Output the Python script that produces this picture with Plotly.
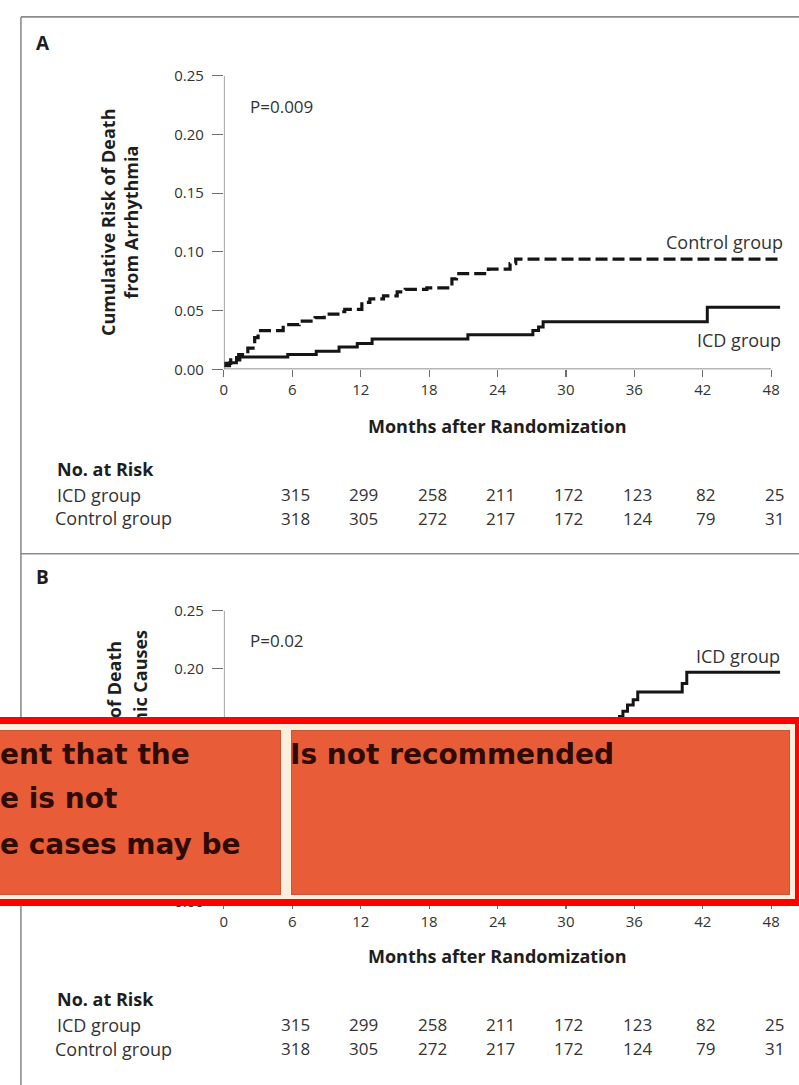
import plotly.graph_objects as go

W, H = 799, 1085

# ---- data ---------------------------------------------------------------
months = [0, 6, 12, 18, 24, 30, 36, 42, 48]
y_ticks = [0.00, 0.05, 0.10, 0.15, 0.20, 0.25]
a_ytick_text = ["0.00", "0.05", "0.10", "0.15", "0.20", "0.25"]
# panel B: the middle labels sit behind the banner
b_ytick_text = ["0.00", "", "", "", "0.20", "0.25"]

# Panel A: death from arrhythmia (Kaplan-Meier steps)
a_icd_t = [0, 0.5, 1.1, 1.4, 5.6, 8.1, 10.1, 11.7, 13.0, 21.4, 27.1, 27.6, 28.0, 42.4, 48.8]
a_icd_r = [0.003, 0.0055, 0.008, 0.0105, 0.0125, 0.0153, 0.0189, 0.022, 0.0258, 0.0295, 0.033, 0.036, 0.0405, 0.0528, 0.0528]

a_ctl_t = [0, 0.6, 1.3, 2.1, 2.7, 3.0, 5.2, 6.6, 8.0, 8.8, 10.0, 10.6, 12.1, 12.8, 14.0,
           15.2, 15.9, 17.8, 20.0, 20.4, 23.2, 25.1, 25.6, 48.8]
a_ctl_r = [0.005, 0.010, 0.0125, 0.018, 0.027, 0.033, 0.038, 0.041, 0.044, 0.047, 0.049, 0.051, 0.057, 0.060, 0.0625,
           0.066, 0.068, 0.0694, 0.077, 0.0814, 0.0853, 0.090, 0.0939, 0.0939]

# Panel B: death from nonarrhythmic causes
b_icd_t = [0, 1.0, 3.0, 6.0, 9.0, 12.0, 15.0, 18.0, 21.0, 24.0, 27.0, 30.0, 32.0, 33.5,
           34.7, 35.0, 35.4, 35.9, 36.3, 40.2, 40.6, 48.8]
b_icd_r = [0.004, 0.012, 0.025, 0.040, 0.055, 0.070, 0.085, 0.095, 0.110, 0.120, 0.130, 0.140, 0.148, 0.154,
           0.159, 0.1636, 0.169, 0.1734, 0.180, 0.1875, 0.197, 0.197]

b_ctl_t = [0, 1.5, 4.0, 8.0, 12.0, 16.0, 20.0, 25.0, 30.0, 36.0, 42.0, 48.8]
b_ctl_r = [0.003, 0.010, 0.020, 0.030, 0.040, 0.050, 0.058, 0.066, 0.074, 0.082, 0.090, 0.090]

risk_icd = [315, 299, 258, 211, 172, 123, 82, 25]
risk_ctl = [318, 305, 272, 217, 172, 124, 79, 31]

# ---- styling ------------------------------------------------------------
FONT = "Open Sans, Lato, sans-serif"
TXT = "#333333"
DARK = "#1e1e1e"
AX = "#6e6e6e"
CURVE = "#151515"

X0 = 221.0            # pixel of month 0
PPM = 550.0 / 48.0    # pixels per month
XMAX = 48.8


def px(x):
    return x / W


def py(y):
    return 1 - y / H


fig = go.Figure()

panels = [
    dict(xa="x", ya="y", top=66, bottom=365, dy=0,
         icd=(a_icd_t, a_icd_r), ctl=(a_ctl_t, a_ctl_r)),
    dict(xa="x2", ya="y2", top=611, bottom=907, dy=540,
         icd=(b_icd_t, b_icd_r), ctl=(b_ctl_t, b_ctl_r)),
]

for p in panels:
    fig.add_trace(go.Scatter(x=p["ctl"][0], y=p["ctl"][1], mode="lines",
                             line=dict(color=CURVE, width=3.2, shape="hv", dash="12px,5px"),
                             xaxis=p["xa"], yaxis=p["ya"], showlegend=False, hoverinfo="skip"))
    fig.add_trace(go.Scatter(x=p["icd"][0], y=p["icd"][1], mode="lines",
                             line=dict(color=CURVE, width=3.0, shape="hv"),
                             xaxis=p["xa"], yaxis=p["ya"], showlegend=False, hoverinfo="skip"))


def xaxis_cfg(anchor):
    return dict(domain=[px(X0), px(X0 + XMAX * PPM)], range=[0, XMAX], tickvals=months,
                ticks="outside", ticklen=7, tickwidth=1.2, tickcolor=AX,
                showgrid=False, zeroline=False, showline=False, anchor=anchor,
                tickfont=dict(family=FONT, size=15, color=TXT), fixedrange=True)


def yaxis_cfg(anchor, top, bottom, labels):
    return dict(domain=[py(bottom), py(top)], range=[0, 0.25], tickvals=y_ticks, ticktext=labels,
                ticks="outside", ticklen=11, tickwidth=1.2, tickcolor=AX, ticklabelstandoff=5,
                showgrid=False, zeroline=False, showline=False, anchor=anchor,
                tickfont=dict(family=FONT, size=15, color=TXT), fixedrange=True)


shapes = []
for p in panels:
    shapes.append(dict(type="line", xref=p["xa"], yref=p["ya"], x0=0, x1=48, y0=0, y1=0,
                       line=dict(color=AX, width=1.3)))
    shapes.append(dict(type="line", xref=p["xa"], yref=p["ya"], x0=0, x1=0, y0=0, y1=0.25,
                       line=dict(color=AX, width=1.3)))

# panel frame
FRAME = "#8c8c8c"
shapes += [
    dict(type="line", xref="paper", yref="paper", x0=px(17), x1=px(17), y0=py(6), y1=py(1100),
         line=dict(color=FRAME, width=1.6)),
    dict(type="line", xref="paper", yref="paper", x0=px(17), x1=px(810), y0=py(6), y1=py(6),
         line=dict(color=FRAME, width=1.6)),
    dict(type="line", xref="paper", yref="paper", x0=px(17), x1=px(810), y0=py(553), y1=py(553),
         line=dict(color=FRAME, width=1.6)),
]

ann = []


def text(s, x, y, size=18, color=TXT, xanchor="left", yanchor="middle", bold=False, **kw):
    if bold:
        s = "<b>" + s + "</b>"
    ann.append(dict(text=s, x=px(x), y=py(y), xref="paper", yref="paper", xanchor=xanchor,
                    yanchor=yanchor, showarrow=False,
                    font=dict(family=kw.pop("family", FONT), size=size, color=color), **kw))


panel_text = [
    dict(letter="A", p="P=0.009", labels=[("Control group", 785, 235), ("ICD group", 783, 335)]),
    dict(letter="B", p="P=0.02", labels=[("ICD group", 782, 657)]),
]

for p, t in zip(panels, panel_text):
    dy = p["dy"]
    top_dy = 544 if dy else 0
    text(t["letter"], 30, 33 + top_dy, size=19, color=DARK, bold=True)
    text(t["p"], 245, 97 + top_dy, size=17)
    for s, x, y in t["labels"]:
        text(s, x, y, size=18, xanchor="right")
    text("Months after Randomization", 496, 423 + dy, size=18, color=DARK, xanchor="center", bold=True)
    text("No. at Risk", 51, 467 + dy, size=18, color=DARK, bold=True)
    text("ICD group", 51, 493 + dy, size=18)
    text("Control group", 49, 517 + dy, size=18)
    for m, a, c in zip(months[1:], risk_icd, risk_ctl):
        for v, yy in ((a, 493), (c, 517)):
            ann.append(dict(text=str(v), x=m, xref=p["xa"], xshift=3, y=py(yy + dy), yref="paper",
                            xanchor="center", yanchor="middle", showarrow=False,
                            font=dict(family=FONT, size=17, color=TXT)))

# vertical axis titles
ann.append(dict(text="<b>Cumulative Risk of Death<br>from Arrhythmia</b>", x=px(116), y=py(215.5),
                xref="paper", yref="paper", xanchor="center", yanchor="middle",
                textangle=-90, showarrow=False, font=dict(family=FONT, size=18, color=DARK)))
# panel B title: only the part above the banner remains visible
for s, x, top in (("of Death", 110, 640), ("mic Causes", 137, 628)):
    ann.append(dict(text="<b>" + s + "</b>", x=px(x), y=py(top), xref="paper", yref="paper",
                    xanchor="center", yanchor="top", textangle=-90, showarrow=False,
                    font=dict(family=FONT, size=18, color=DARK)))

# ---- overlay banner drawn on top of panel B ------------------------------
RED = "#ff0000"
CREAM = "#fbeedd"
ORANGE = "#e85c38"
ORANGE_EDGE = "#c9553a"


def box(x0, y0, x1, y1, fill, edge, bw):
    ann.append(dict(text=" ", x=px(x0), y=py(y0), xref="paper", yref="paper",
                    xanchor="left", yanchor="top", showarrow=False,
                    width=(x1 - x0) - 2 * bw, height=(y1 - y0) - 2 * bw,
                    bgcolor=fill, bordercolor=edge, borderwidth=bw, borderpad=0,
                    font=dict(size=4)))


box(-12, 719, 798, 908, CREAM, RED, 7)
box(-12, 733, 277, 898, ORANGE, ORANGE_EDGE, 1)
box(288, 733, 787, 898, ORANGE, ORANGE_EDGE, 1)

BANNER = "#2e0c04"
BFONT = "DejaVu Sans, Verdana, sans-serif"
for s, x, y in [("ent that the", -6, 757), ("e is not", -6, 802), ("e cases may be", -6, 849),
                ("Is not recommended", 285, 757)]:
    text(s, x, y, size=28, color=BANNER, bold=True, family=BFONT)

fig.update_layout(
    width=W, height=H,
    margin=dict(l=0, r=0, t=0, b=0),
    paper_bgcolor="white", plot_bgcolor="white",
    xaxis=xaxis_cfg("y"), yaxis=yaxis_cfg("x", 66, 365, a_ytick_text),
    xaxis2=xaxis_cfg("y2"), yaxis2=yaxis_cfg("x2", 611, 907, b_ytick_text),
    shapes=shapes, annotations=ann,
    showlegend=False,
)

fig.write_html("out.html", config={"displayModeBar": False, "staticPlot": True})
